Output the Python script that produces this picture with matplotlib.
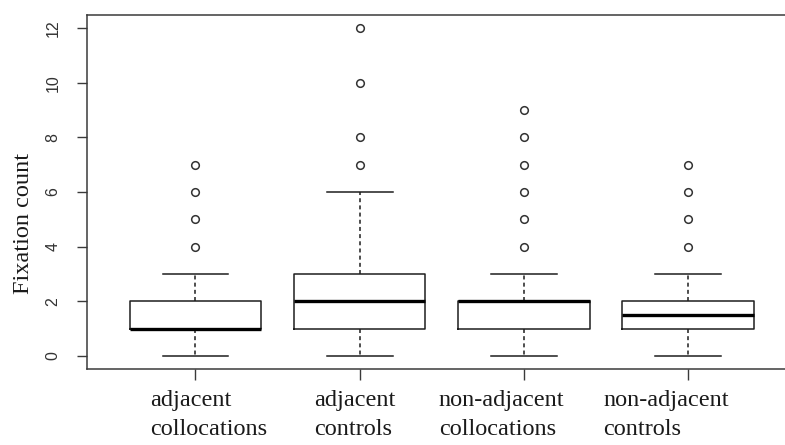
import matplotlib
matplotlib.use("Agg")
import matplotlib.pyplot as plt
from matplotlib.transforms import ScaledTranslation

# data
categories = ["adjacent\ncollocations", "adjacent\ncontrols",
              "non-adjacent\ncollocations", "non-adjacent\ncontrols"]
whisker_low = [0, 0, 0, 0]
quartile_1 = [1, 1, 1, 1]
medians = [1, 2, 2, 1.5]
quartile_3 = [2, 3, 2, 2]
whisker_high = [3, 6, 3, 3]
outliers = [[4, 5, 6, 7], [7, 8, 10, 12], [4, 5, 6, 7, 8, 9], [4, 5, 6, 7]]
y_ticks = [0, 2, 4, 6, 8, 10, 12]

LINE = "#1e1e1e"
FRAME = "#3a3a3a"
SERIF = ["Liberation Serif", "DejaVu Serif"]
SANS = ["Liberation Sans", "DejaVu Sans"]
LABEL_DX_PX = [-45, -46, -85, -85]  # left edge of each label vs its box centre

stats = []
for i in range(len(categories)):
    stats.append({
        "whislo": whisker_low[i],
        "q1": quartile_1[i],
        "med": medians[i],
        "q3": quartile_3[i],
        "whishi": whisker_high[i],
        "fliers": outliers[i],
    })

fig = plt.figure(figsize=(7.85, 4.45), dpi=100)
ax = fig.add_axes([0.1108, 0.1708, 0.904, 0.7955])

positions = list(range(1, len(categories) + 1))
ax.bxp(
    stats,
    positions=positions,
    widths=0.8,
    capwidths=0.4,
    showfliers=True,
    boxprops=dict(color=LINE, linewidth=1.1),
    medianprops=dict(color="black", linewidth=2.4),
    whiskerprops=dict(color=LINE, linewidth=1.1, linestyle=(0, (2.6, 2.1))),
    capprops=dict(color=LINE, linewidth=1.1),
    flierprops=dict(marker="o", markersize=5.5, markerfacecolor="none",
                    markeredgecolor="#333333", markeredgewidth=1.1),
)

ax.set_xlim(0.34, 4.66)
ax.set_ylim(-0.48, 12.48)

for s in ax.spines.values():
    s.set_color(FRAME)
    s.set_linewidth(1.1)

ax.set_yticks(y_ticks)
ax.set_yticklabels([str(t) for t in y_ticks], rotation=90, va="center",
                   family=SANS, fontsize=11.5, color="#333333")
ax.tick_params(axis="y", direction="out", length=7.2, width=1.0,
               color=FRAME, pad=12)

ax.set_xticks(positions)
ax.set_xticklabels(categories, family=SERIF, fontsize=17.5, color="#1a1a1a",
                   ha="left", multialignment="left", linespacing=1.5)
ax.tick_params(axis="x", direction="out", length=8, width=1.0,
               color=FRAME, pad=7)
for lab, dx in zip(ax.get_xticklabels(), LABEL_DX_PX):
    lab.set_transform(lab.get_transform() +
                      ScaledTranslation(dx / 100, 0, fig.dpi_scale_trans))

ax.set_ylabel("Fixation count", family=SERIF, fontsize=17.5,
              color="#1a1a1a", va="center")
ax.yaxis.set_label_coords(-0.090, 0.41)

fig.savefig("out.png", dpi=100)
